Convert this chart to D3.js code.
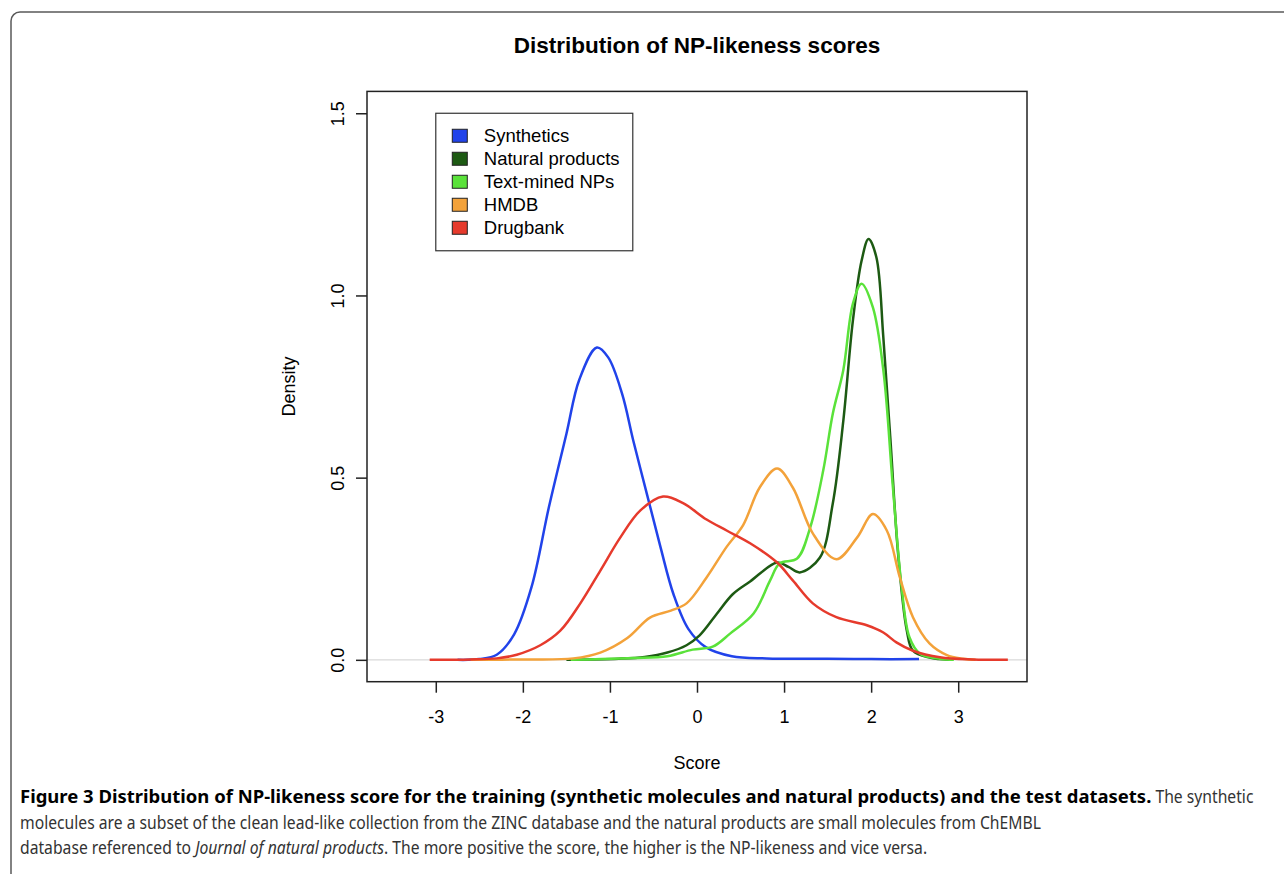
<!DOCTYPE html>
<html>
<head>
<meta charset="utf-8">
<script src="https://cdn.jsdelivr.net/npm/d3@7"></script>
<style>
    html, body { margin: 0; padding: 0; background: #fff; }
    svg { display: block; }
    .chart text { font-family: 'Liberation Sans', Arial, Helvetica, sans-serif; fill: #000; }
    .caption text { font-family: 'Noto Sans', sans-serif; fill: #333; white-space: pre; }
</style>
</head>
<body>
<svg id="chart" width="1284" height="874"></svg>
<script>
const chartTitle = 'Distribution of NP-likeness scores'
const xLabel = 'Score'
const yLabel = 'Density'
const xTicks = [-3, -2, -1, 0, 1, 2, 3]
const yTicks = [0, 0.5, 1.0, 1.5]
const seriesNames = ['Synthetics', 'Natural products', 'Text-mined NPs', 'HMDB', 'Drugbank']

// density curves (score -> density)
const syntheticsScore = [-2.75, -2.5, -2.3, -2.1, -1.9, -1.7, -1.5, -1.35, -1.15, -1.02, -0.86, -0.73, -0.57, -0.42, -0.27, -0.1, 0.1, 0.4, 0.8, 1.5, 2.0, 2.55]
const syntheticsDensity = [0, 0.002, 0.014, 0.07, 0.2, 0.42, 0.62, 0.77, 0.857, 0.83, 0.73, 0.6, 0.45, 0.31, 0.18, 0.085, 0.035, 0.01, 0.004, 0.003, 0.002, 0.002]

const naturalScore = [-1.5, -0.9, -0.6, -0.34, -0.12, 0.03, 0.23, 0.41, 0.61, 0.92, 1.05, 1.18, 1.41, 1.56, 1.68, 1.79, 1.89, 1.97, 2.06, 2.14, 2.22, 2.31, 2.41, 2.48, 2.67, 2.9]
const naturalDensity = [0, 0.003, 0.008, 0.02, 0.04, 0.067, 0.127, 0.18, 0.215, 0.267, 0.255, 0.24, 0.28, 0.43, 0.655, 0.93, 1.095, 1.155, 1.105, 0.885, 0.61, 0.29, 0.08, 0.025, 0.006, 0]

const textMinedScore = [-1.45, -1.1, -0.73, -0.34, -0.05, 0.18, 0.38, 0.65, 0.84, 0.95, 1.15, 1.3, 1.45, 1.56, 1.68, 1.79, 1.89, 2.02, 2.14, 2.25, 2.35, 2.44, 2.56, 2.79, 2.95]
const textMinedDensity = [0, 0.002, 0.005, 0.01, 0.028, 0.036, 0.072, 0.127, 0.218, 0.265, 0.278, 0.363, 0.52, 0.676, 0.795, 0.977, 1.032, 0.967, 0.795, 0.473, 0.2, 0.062, 0.017, 0.003, 0]

const hmdbScore = [-2.6, -2.0, -1.42, -1.11, -0.8, -0.54, -0.3, -0.12, 0.11, 0.34, 0.53, 0.72, 0.92, 1.1, 1.33, 1.6, 1.84, 2.02, 2.18, 2.33, 2.48, 2.67, 2.87, 3.05, 3.2]
const hmdbDensity = [0, 0.001, 0.004, 0.02, 0.06, 0.116, 0.135, 0.155, 0.226, 0.31, 0.37, 0.473, 0.525, 0.473, 0.347, 0.276, 0.336, 0.4, 0.355, 0.226, 0.117, 0.045, 0.013, 0.003, 0]

const drugbankScore = [-3.07, -2.6, -2.3, -2.07, -1.8, -1.57, -1.34, -1.11, -0.88, -0.65, -0.39, -0.16, 0.11, 0.34, 0.61, 0.92, 1.1, 1.33, 1.6, 1.95, 2.14, 2.29, 2.48, 2.79, 3.17, 3.57]
const drugbankDensity = [0, 0.001, 0.004, 0.014, 0.04, 0.08, 0.155, 0.245, 0.336, 0.41, 0.448, 0.43, 0.385, 0.355, 0.32, 0.267, 0.218, 0.155, 0.117, 0.095, 0.075, 0.048, 0.025, 0.007, 0.001, 0]

const captionLines = [
    [['Figure 3 Distribution of NP-likeness score for the training (synthetic molecules and natural products) and the test datasets.', 'bold'], [' The synthetic', 'normal']],
    [['molecules are a subset of the clean lead-like collection from the ZINC database and the natural products are small molecules from ChEMBL', 'normal']],
    [['database referenced to ', 'normal'], ['Journal of natural products', 'italic'], ['. The more positive the score, the higher is the NP-likeness and vice versa.', 'normal']],
]

const chartConfig = {
    colors: ['#2143ea', '#1d5a13', '#5ae23a', '#f3a23a', '#e63a2c'],
    lineWidth: 2.5,
    fontSize: 18,
    box: { left: 367, right: 1027, top: 91.4, bottom: 681.7 },
    xDomain: [-3.79, 3.79],
    yDomain: [-0.06, 1.56],
    // caption set in a narrow face: widths of the bold lead-in and of line two
    captionBoldWidth: 1132,
    captionRegularWidth: 1022,
}

const series = [
    [syntheticsScore, syntheticsDensity],
    [naturalScore, naturalDensity],
    [textMinedScore, textMinedDensity],
    [hmdbScore, hmdbDensity],
    [drugbankScore, drugbankDensity],
].map(([xs, ys], i) => ({
    name: seriesNames[i],
    color: chartConfig.colors[i],
    points: xs.map((x, j) => [x, ys[j]]),
}))

const svg = d3.select('#chart')
const box = chartConfig.box

svg.append('rect').attr('width', 1284).attr('height', 874).attr('fill', '#fff')

// figure frame (runs off the page right and bottom)
svg.append('rect')
    .attr('x', 11).attr('y', 12)
    .attr('width', 1320).attr('height', 900)
    .attr('rx', 9)
    .attr('fill', 'none')
    .attr('stroke', '#5a5a5a')
    .attr('stroke-width', 1.5)

const chart = svg.append('g').classed('chart', true)

const xScale = d3.scaleLinear().domain(chartConfig.xDomain).range([box.left, box.right])
const yScale = d3.scaleLinear().domain(chartConfig.yDomain).range([box.bottom, box.top])

// zero line
chart.append('line')
    .attr('x1', box.left).attr('x2', box.right)
    .attr('y1', yScale(0)).attr('y2', yScale(0))
    .attr('stroke', '#d9d9d9')
    .attr('stroke-width', 1.2)

const line = d3.line()
    .x(d => xScale(d[0]))
    .y(d => yScale(d[1]))
    .curve(d3.curveCatmullRom.alpha(0.5))

chart.selectAll('path.curve')
    .data(series)
    .join('path')
    .classed('curve', true)
    .attr('d', d => line(d.points))
    .attr('fill', 'none')
    .attr('stroke', d => d.color)
    .attr('stroke-width', chartConfig.lineWidth)
    .attr('stroke-linejoin', 'round')

// plot box
chart.append('rect')
    .attr('x', box.left).attr('y', box.top)
    .attr('width', box.right - box.left).attr('height', box.bottom - box.top)
    .attr('fill', 'none')
    .attr('stroke', '#222')
    .attr('stroke-width', 1.5)

const xAxis = d3.axisBottom(xScale)
    .tickValues(xTicks)
    .tickFormat(d => String(d))
    .tickSize(11)
    .tickPadding(17.5)
    .tickSizeOuter(0)

const xAxisGroup = chart.append('g')
    .attr('transform', `translate(0,${box.bottom})`)
    .call(xAxis)
xAxisGroup.select('.domain').remove()

const yAxis = d3.axisLeft(yScale)
    .tickValues(yTicks)
    .tickFormat(d3.format('.1f'))
    .tickSize(11)
    .tickSizeOuter(0)

const yAxisGroup = chart.append('g')
    .attr('transform', `translate(${box.left},0)`)
    .call(yAxis)
yAxisGroup.select('.domain').remove()
yAxisGroup.selectAll('text')
    .attr('transform', 'rotate(-90)')
    .attr('x', 0)
    .attr('y', -23.5)
    .attr('dy', 0)
    .attr('text-anchor', 'middle')

for (const g of [xAxisGroup, yAxisGroup]) {
    g.attr('font-family', null).attr('font-size', null)
    g.selectAll('line').attr('stroke', '#222').attr('stroke-width', 1.5)
    g.selectAll('text').attr('fill', '#000').style('font-size', chartConfig.fontSize + 'px')
}

chart.append('text')
    .attr('x', (box.left + box.right) / 2)
    .attr('y', 53)
    .attr('text-anchor', 'middle')
    .style('font-size', '22.5px')
    .style('font-weight', 'bold')
    .text(chartTitle)

chart.append('text')
    .attr('x', (box.left + box.right) / 2)
    .attr('y', 768.5)
    .attr('text-anchor', 'middle')
    .style('font-size', chartConfig.fontSize + 'px')
    .text(xLabel)

chart.append('text')
    .attr('transform', `translate(294.5,${(box.top + box.bottom) / 2}) rotate(-90)`)
    .attr('text-anchor', 'middle')
    .style('font-size', chartConfig.fontSize + 'px')
    .text(yLabel)

// legend anchored at (-3, 1.5) like R's legend(x, y)
const legend = chart.append('g')
    .attr('transform', `translate(${xScale(-3)},${yScale(1.5)})`)

legend.append('rect')
    .attr('width', 197).attr('height', 137.5)
    .attr('fill', '#fff')
    .attr('stroke', '#333')
    .attr('stroke-width', 1.2)

const legendRows = legend.selectAll('g.row')
    .data(series)
    .join('g')
    .classed('row', true)
    .attr('transform', (d, i) => `translate(0,${22.5 + i * 23})`)

legendRows.append('rect')
    .attr('x', 16.5).attr('y', -6.5)
    .attr('width', 15).attr('height', 13)
    .attr('fill', d => d.color)
    .attr('stroke', '#222')
    .attr('stroke-width', 1)

legendRows.append('text')
    .attr('x', 48)
    .attr('y', 6.6)
    .style('font-size', '18.5px')
    .text(d => d.name)

// caption: each run is its own text, squeezed horizontally to a narrow face
const caption = svg.append('g').classed('caption', true)

function captionRun(text, style) {
    const t = caption.append('text')
        .style('font-size', '18px')
        .text(text)
    if (style === 'bold') t.style('font-weight', 'bold').style('fill', '#000')
    if (style === 'italic') t.style('font-style', 'italic')
    return t
}

function measure(text, style) {
    const t = captionRun(text, style)
    const w = t.node().getComputedTextLength()
    t.remove()
    return w
}

const boldSqueeze = chartConfig.captionBoldWidth / measure(captionLines[0][0][0], 'bold')
const regularSqueeze = chartConfig.captionRegularWidth / measure(captionLines[1][0][0], 'normal')

captionLines.forEach((parts, i) => {
    let x = 20
    const y = 803 + i * 25.5
    for (const [text, style] of parts) {
        const t = captionRun(text, style)
        const s = style === 'bold' ? boldSqueeze : regularSqueeze
        t.attr('transform', `translate(${x},${y}) scale(${s},1)`)
        x += t.node().getComputedTextLength() * s
    }
})
</script>
</body>
</html>
